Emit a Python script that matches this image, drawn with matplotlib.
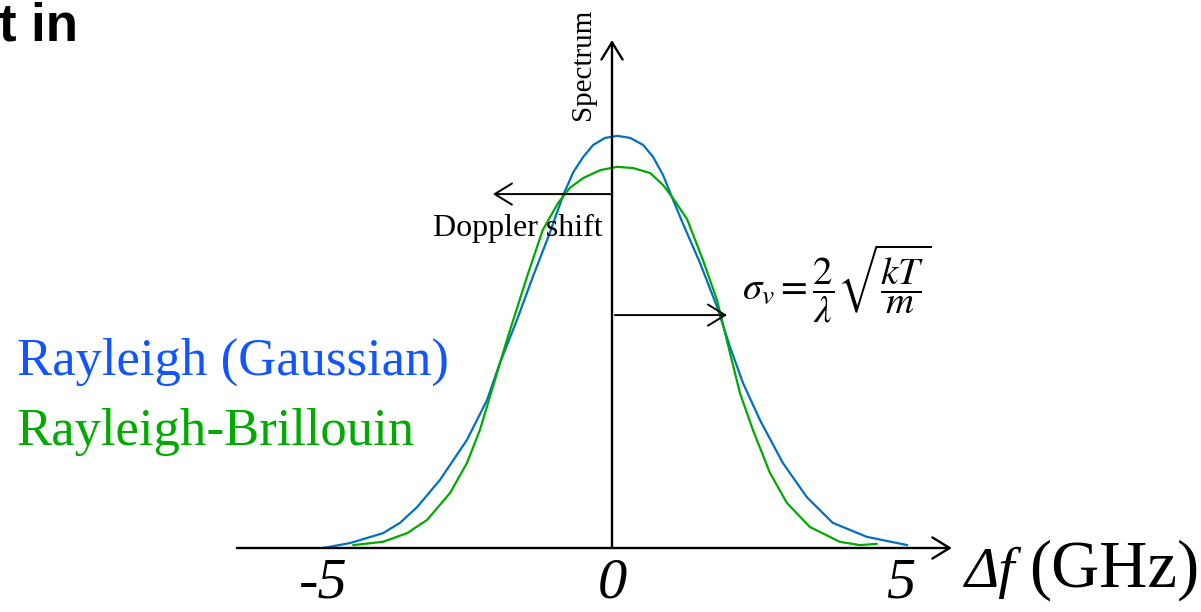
import matplotlib.pyplot as plt

# frequency shift (GHz) and relative intensity
gauss_f = [-4.92, -4.46, -3.90, -3.61, -3.32, -2.93, -2.47, -2.13, -1.91, -1.62,
           -1.35, -1.06, -0.83, -0.66, -0.49, -0.32, -0.12, 0.09, 0.31, 0.53,
           0.70, 0.87, 1.04, 1.21, 1.50, 1.79, 2.01, 2.23, 2.52, 2.91,
           3.32, 3.76, 4.34, 5.03]
gauss_s = [0.000, 0.012, 0.036, 0.061, 0.099, 0.165, 0.262, 0.358, 0.448, 0.552,
           0.656, 0.763, 0.855, 0.910, 0.947, 0.976, 0.993, 0.998, 0.993, 0.976,
           0.947, 0.903, 0.843, 0.785, 0.690, 0.584, 0.487, 0.400, 0.310, 0.206,
           0.123, 0.061, 0.027, 0.007]

rb_f = [-4.41, -3.90, -3.49, -3.15, -2.76, -2.47, -2.25, -2.03, -1.79, -1.45,
        -1.18, -0.92, -0.72, -0.49, -0.20, 0.09, 0.36, 0.65, 0.87, 1.04,
        1.28, 1.55, 1.79, 2.01, 2.18, 2.40, 2.69, 2.98, 3.37, 3.88,
        4.22, 4.51]
rb_s = [0.007, 0.015, 0.036, 0.068, 0.133, 0.206, 0.286, 0.390, 0.504, 0.656,
        0.770, 0.835, 0.872, 0.896, 0.915, 0.923, 0.920, 0.908, 0.879, 0.847,
        0.796, 0.697, 0.600, 0.472, 0.375, 0.286, 0.182, 0.109, 0.051, 0.015,
        0.007, 0.010]

tick_vals = [-5, 0, 5]
tick_text = ['-5', '0', '5']

SERIF = ['Liberation Serif', 'DejaVu Serif']
BLUE_LINE = '#0070C0'
GREEN_LINE = '#00AA00'

plt.rcParams['mathtext.fontset'] = 'stix'

fig = plt.figure(figsize=(12.01, 6.12), dpi=100)
ax = fig.add_axes([0, 0, 1, 1])
ax.set_xlim(-10.426, 10.034)
ax.set_ylim(-0.155, 1.327)
ax.axis('off')

ax.plot(gauss_f, gauss_s, color=BLUE_LINE, lw=1.6, solid_capstyle='round',
        solid_joinstyle='round')
ax.plot(rb_f, rb_s, color=GREEN_LINE, lw=1.6, solid_capstyle='round',
        solid_joinstyle='round')

head = dict(arrowstyle='->,head_length=0.62,head_width=0.38', mutation_scale=20,
            shrinkA=0, shrinkB=0, color='black')
# axes
ax.annotate('', xy=(5.79, 0), xytext=(-6.39, 0), arrowprops=dict(lw=1.7, **head))
ax.annotate('', xy=(0, 1.230), xytext=(0, 0), arrowprops=dict(lw=1.7, **head))
# doppler shift + width arrows
ax.annotate('', xy=(-2.03, 0.857), xytext=(0, 0.857), arrowprops=dict(lw=1.4, **head))
ax.annotate('', xy=(1.96, 0.564), xytext=(0.05, 0.564), arrowprops=dict(lw=1.4, **head))

ax.text(-0.49, 1.172, 'Spectrum', rotation=90, ha='center', va='center',
        family=SERIF, fontsize=21)
ax.text(-0.15, 0.755, 'Doppler shift', ha='right', va='baseline',
        family=SERIF, fontsize=23)

ax.text(2.21, 0.64, r'$\sigma_v = \dfrac{2}{\lambda}\sqrt{\dfrac{kT}{m}}$',
        ha='left', va='center', fontsize=28)

ax.text(-10.14, 0.419, 'Rayleigh (Gaussian)', ha='left', va='baseline',
        family=SERIF, fontsize=38, color='#1155FF')
ax.text(-10.14, 0.249, 'Rayleigh-Brillouin', ha='left', va='baseline',
        family=SERIF, fontsize=38, color='#00AA00')

for v, t in zip(tick_vals, tick_text):
    ax.text(v * 0.985, -0.121, t, ha='center', va='baseline', family=SERIF,
            style='italic', fontsize=42)

ax.text(6.02, -0.094, 'Δf', ha='left', va='baseline', family=SERIF,
        style='italic', fontsize=42)
ax.text(10.0, -0.094, '(GHz)', ha='right', va='baseline', family=SERIF, fontsize=48)

ax.text(-10.44, 1.230, 't in', ha='left', va='baseline',
        family=['Liberation Sans', 'DejaVu Sans'], weight='bold', fontsize=38)

fig.savefig('out.png', dpi=100)
